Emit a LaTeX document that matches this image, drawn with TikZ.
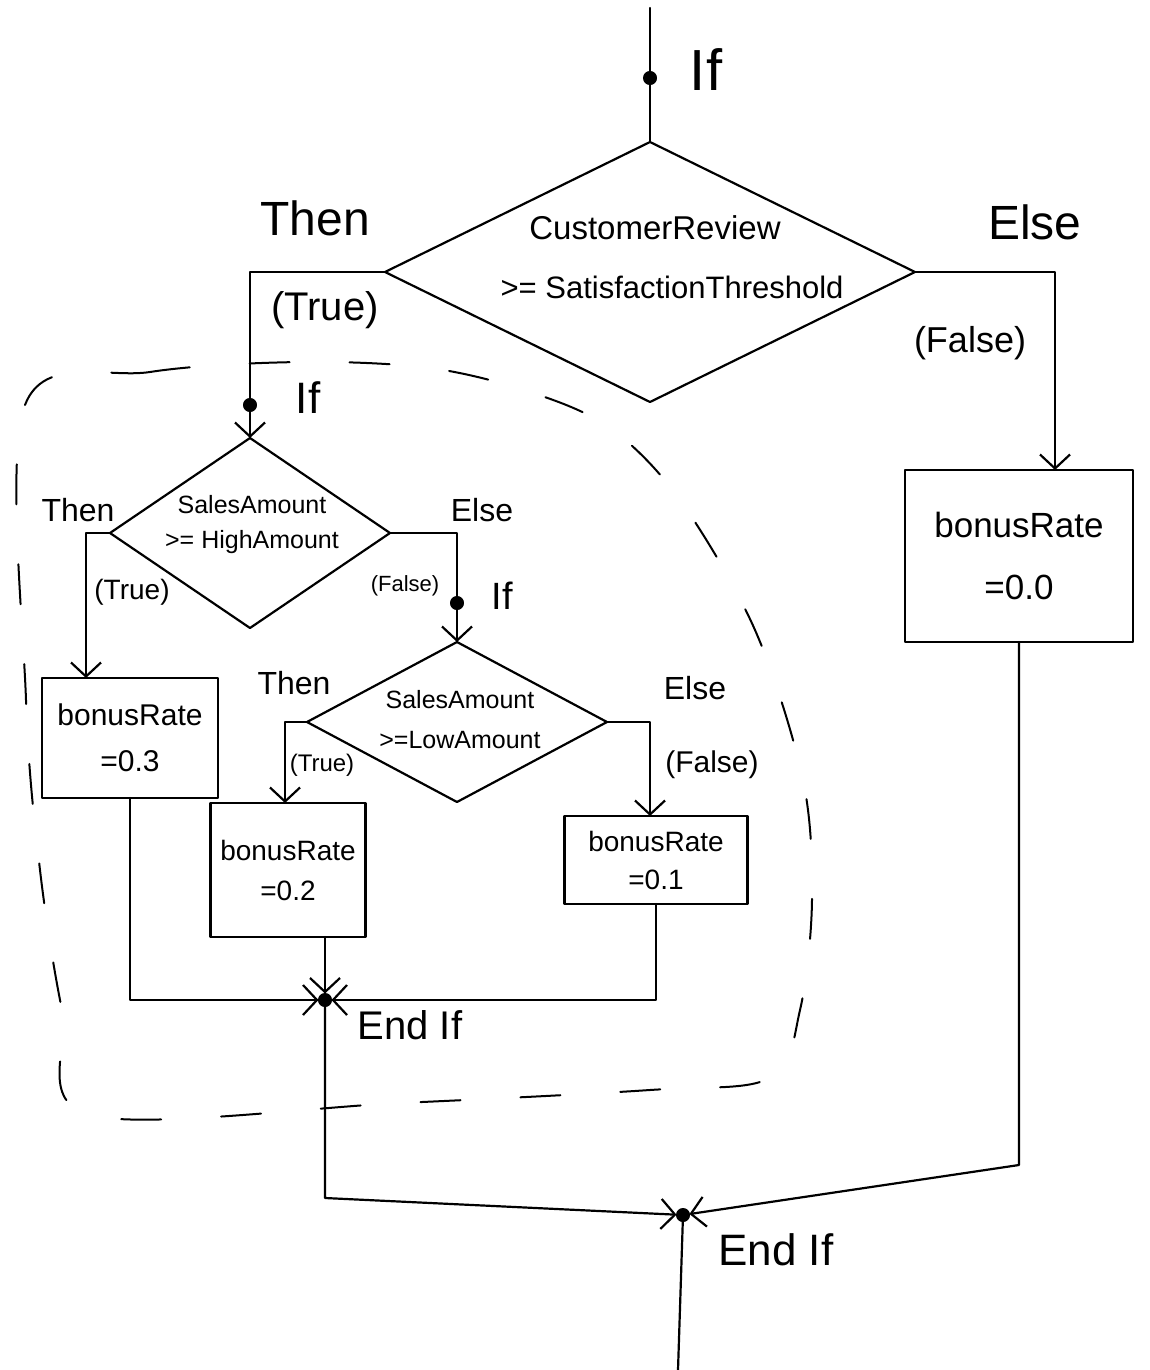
\documentclass[tikz,border=0pt]{standalone}
\usepackage{fontspec}
\setmainfont{Liberation Sans}
\usetikzlibrary{shapes.geometric,arrows.meta}
\begin{document}
\begin{tikzpicture}[x=1pt,y=-1pt,
  line width=2.2pt, line cap=round, line join=round,
  arr/.style={-{Straight Barb[length=14pt,width=30pt]}},
  dec/.style={diamond, draw, inner sep=0pt, outer sep=0pt},
  box/.style={rectangle, draw, inner sep=0pt, outer sep=0pt, align=center},
  dot/.style={circle, fill=black, draw=black, line width=1pt, minimum size=13pt, inner sep=0pt, outer sep=0pt},
  lbl/.style={inner sep=1pt, align=center},
  fbig/.style={font=\fontsize{48}{48}\selectfont},
  fmid/.style={font=\fontsize{40}{40}\selectfont},
  fsm/.style={font=\fontsize{32}{32}\selectfont},
  fxs/.style={font=\fontsize{25}{25}\selectfont},
  region/.style={dash pattern=on 40pt off 60pt, line width=2pt}
]
\useasboundingbox (0,0) rectangle (1149,1370);

% ---------- outer If ----------
\coordinate (top) at (650,8);
\node[dot] (if1) at (650,78) {};
\node[lbl, font=\fontsize{58}{58}\selectfont] (if1l) at (706,70) {If};
\node[dec, minimum width=530pt, minimum height=260pt] (d1) at (650,272) {};
\node[lbl, font=\fontsize{33}{33}\selectfont] (d1a) at (655,228) {CustomerReview};
\node[lbl, font=\fontsize{31}{31}\selectfont] (d1b) at (672,287) {>= SatisfactionThreshold};
\draw (top) -- (if1) -- (d1.north);

\node[lbl, fbig] (then1) at (315,218) {Then};
\node[lbl, fbig] (else1) at (1035,222) {Else};
\node[lbl, fmid] (true1) at (325,310) {(True)};
\node[lbl, font=\fontsize{36}{36}\selectfont] (false1) at (970,343) {(False)};

\node[box, minimum width=228pt, minimum height=172pt, font=\fontsize{35}{62}\selectfont] (b0) at (1019,556) {bonusRate\\=0.0};

\coordinate (e1) at (1055,272);
\draw[arr] (d1.east) -- (e1) -- (e1 |- b0.north);

% ---------- inner If (dashed region) ----------
\draw[region] plot[smooth cycle, tension=0.55] coordinates {
  (25,405) (150,372) (300,362) (430,368) (530,392) (610,428) (680,500)
  (755,630) (803,780) (812,900) (800,1010) (770,1078) (650,1090)
  (400,1103) (90,1115) (62,1010) (40,870) (26,700)};

\coordinate (t1) at (250,272);
\node[dot] (if2) at (250,405) {};
\node[lbl, font=\fontsize{44}{44}\selectfont] (if2l) at (308,398) {If};
\node[dec, minimum width=280pt, minimum height=190pt] (d2) at (250,533) {};
\node[lbl, fxs] (d2a) at (252,505) {SalesAmount};
\node[lbl, fxs] (d2b) at (252,542) {>= HighAmount};
\draw (d1.west) -- (t1) -- (if2);
\draw[arr] (if2) -- (d2.north);

\node[lbl, fsm] (then2) at (78,510) {Then};
\node[lbl, fsm] (else2) at (482,510) {Else};
\node[lbl, font=\fontsize{28}{28}\selectfont] (true2) at (132,592) {(True)};
\node[lbl, font=\fontsize{22}{22}\selectfont] (false2) at (405,586) {(False)};

\node[box, minimum width=176pt, minimum height=120pt, font=\fontsize{30}{46}\selectfont] (b3) at (130,738) {bonusRate\\=0.3};
\coordinate (t2) at (86,533);
\draw[arr] (d2.west) -- (t2) -- (t2 |- b3.north);

% ---------- innermost If ----------
\coordinate (f2) at (457,533);
\node[dot] (if3) at (457,603) {};
\node[lbl, font=\fontsize{38}{38}\selectfont] (if3l) at (502,596) {If};
\node[dec, minimum width=300pt, minimum height=160pt] (d3) at (457,722) {};
\node[lbl, fxs] (d3a) at (460,700) {SalesAmount};
\node[lbl, fxs] (d3b) at (460,740) {>=LowAmount};
\draw (d2.east) -- (f2) -- (if3);
\draw[arr] (if3) -- (d3.north);

\node[lbl, fsm] (then3) at (294,683) {Then};
\node[lbl, fsm] (else3) at (695,688) {Else};
\node[lbl, font=\fontsize{24}{24}\selectfont] (true3) at (322,765) {(True)};
\node[lbl, font=\fontsize{30}{30}\selectfont] (false3) at (712,765) {(False)};

\node[box, minimum width=155pt, minimum height=134pt, font=\fontsize{28}{40}\selectfont] (b2) at (288,870) {bonusRate\\=0.2};
\node[box, minimum width=183pt, minimum height=88pt, font=\fontsize{28}{38}\selectfont] (b1) at (656,860) {bonusRate\\=0.1};
\coordinate (t3) at (285,722);
\coordinate (f3) at (650,722);
\draw[arr] (d3.west) -- (t3) -- (t3 |- b2.north);
\draw[arr] (d3.east) -- (f3) -- (f3 |- b1.north);

% ---------- inner End If ----------
\node[dot] (endi) at (325,1000) {};
\node[lbl, font=\fontsize{40}{40}\selectfont] (endil) at (410,1025) {End If};
\draw[arr] (b3.south) |- (endi);
\draw[arr] (b2.south -| endi) -- (endi);
\draw[arr] (b1.south) |- (endi);

% ---------- outer End If ----------
\node[dot] (endo) at (683,1215) {};
\node[lbl, font=\fontsize{44}{44}\selectfont] (endol) at (776,1250) {End If};
\coordinate (bot) at (678,1370);
\draw[arr] (endi) -- (325,1198) -- (endo);
\draw[arr] (b0.south) -- (1019,1165) -- (endo);
\draw (endo) -- (bot);
\end{tikzpicture}
\end{document}
